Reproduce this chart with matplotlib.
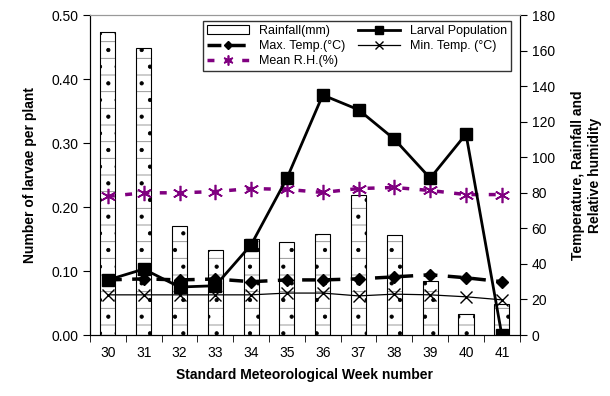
import matplotlib.pyplot as plt
import numpy as np

plt.rcParams['font.family'] = ['Liberation Sans', 'DejaVu Sans']
plt.rcParams['hatch.linewidth'] = 0.6

# Data
weeks = ['30', '31', '32', '33', '34', '35', '36', '37', '38', '39', '40', '41']
rainfall = [170.5, 161.5, 61.5, 48, 54, 52.5, 57, 78.5, 56.5, 30.5, 12, 17.5]
larval = [0.086, 0.103, 0.075, 0.077, 0.141, 0.245, 0.375, 0.352, 0.306, 0.245, 0.314, 0.0]
max_temp = [31, 31.6, 31, 31.5, 30, 31, 31, 31.6, 32.7, 33.9, 32.2, 30]
min_temp = [22.6, 22.6, 22.6, 22.6, 22.6, 23.6, 23.6, 22, 23, 22.6, 21.5, 19.8]
mean_rh = [78, 80, 80, 80.7, 82.4, 81.9, 80.2, 82.4, 83, 81.3, 79, 79]

x = np.arange(len(weeks))

fig = plt.figure(figsize=(6.1, 3.96), dpi=100)
ax = fig.add_axes([0.1475, 0.154, 0.7045, 0.808])
ax2 = ax.twinx()

# larval line on top of everything else
ax.set_zorder(ax2.get_zorder() + 1)
ax.patch.set_visible(False)

# Rainfall bars: grey horizontal hatch plus black dots
ax2.bar(x, rainfall, width=0.42, color='white', edgecolor='#888888', hatch='-', linewidth=0, zorder=1)
ax2.bar(x, rainfall, width=0.42, color='none', edgecolor='black', hatch='.', linewidth=0, zorder=2)
bars = ax2.bar(x, rainfall, width=0.42, color='none', edgecolor='black', linewidth=0.8, zorder=3)

mx, = ax2.plot(x, max_temp, color='black', lw=2.5, ls=(0, (4, 3)), marker='D', ms=6, zorder=4)
mn, = ax2.plot(x, min_temp, color='black', lw=0.9, marker='x', ms=9, mew=1, zorder=4)
rh, = ax2.plot(x, mean_rh, color='#800080', lw=2.5, ls=(0, (2, 3)), marker=(6, 2, 0), ms=11, mew=1.2, zorder=4)
lv, = ax.plot(x, larval, color='black', lw=2, marker='s', ms=8, zorder=5)

ax.set_xlim(-0.5, len(weeks) - 0.5)
ax.set_ylim(0, 0.5)
ax2.set_ylim(0, 180)
ax.set_yticks(np.arange(0, 0.51, 0.1))
ax.set_yticklabels(['%.2f' % v for v in np.arange(0, 0.51, 0.1)])
ax2.set_yticks(np.arange(0, 181, 20))

ax.set_xticks(x)
ax.set_xticklabels(weeks)
ax.set_xticks(np.arange(-0.5, len(weeks)), minor=True)
ax.tick_params(axis='x', which='major', length=0, pad=8, labelsize=10)
ax.tick_params(axis='x', which='minor', length=5, direction='out')
ax.tick_params(axis='y', length=5, labelsize=10)
ax2.tick_params(axis='y', length=5, labelsize=10)

for a in (ax, ax2):
    for s in ('left', 'right', 'bottom'):
        a.spines[s].set_color('black')
    a.spines['top'].set_color('#999999')

ax.set_xlabel('Standard Meteorological Week number', fontsize=10, fontweight='bold', labelpad=6)
ax.set_ylabel('Number of larvae per plant', fontsize=10, fontweight='bold', labelpad=10)
ax2.set_ylabel('Temperature, Rainfall and\nRelative humidity', fontsize=10, fontweight='bold', labelpad=12)

handles = [bars, mx, rh, lv, mn]
labels = ['Rainfall(mm)', 'Max. Temp.(°C)', 'Mean R.H.(%)', 'Larval Population', 'Min. Temp. (°C)']
leg = ax.legend(handles, labels, ncol=2, loc='upper right', bbox_to_anchor=(0.995, 1.0),
                fontsize=9, frameon=True, fancybox=False, edgecolor='black', markerscale=0.65,
                handlelength=3.4, columnspacing=1.0, labelspacing=0.25, borderpad=0.3)
leg.get_frame().set_linewidth(1)

plt.savefig('out.png', dpi=100)
